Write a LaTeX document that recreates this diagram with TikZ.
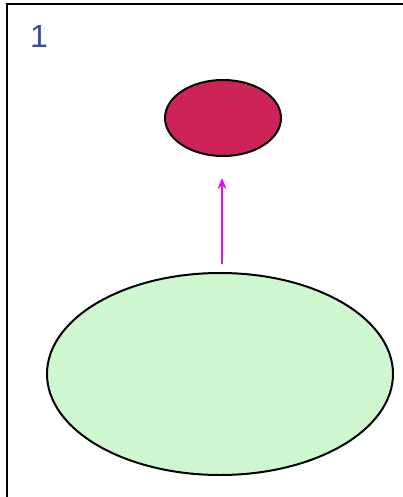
\documentclass[tikz,border=0pt]{standalone}
\usepackage{fontspec}
\setmainfont{Liberation Sans}
\usetikzlibrary{arrows.meta,shapes.geometric}
\definecolor{topred}{HTML}{CC2458}
\definecolor{lightgreen}{HTML}{CFF7CF}
\definecolor{arrowmag}{HTML}{E010E8}
\definecolor{numblue}{HTML}{3848A8}
\tikzset{
  blob/.style={draw=black, line width=2pt, ellipse, inner sep=0pt, outer sep=0pt},
  conn/.style={draw=arrowmag, line width=2.6pt, -{Stealth[length=11pt,width=9pt]}}
}
\begin{document}
\begin{tikzpicture}[x=1pt,y=-1pt]
\useasboundingbox (0,0) rectangle (403,497);
\fill[white] (0,0) rectangle (403,497);
\draw[line width=2.6pt] (7,497) -- (7,4) -- (403,4);
\node[text=numblue, font=\fontsize{32}{36}\selectfont, anchor=center, inner sep=0pt] (num) at (39,36) {1};
\node[blob, fill=topred, minimum width=116pt, minimum height=76pt] (small) at (223,118) {};
\node[blob, fill=lightgreen, minimum width=346pt, minimum height=202pt] (big) at (220,374) {};
\draw[conn, shorten <=9pt, shorten >=22pt] ([xshift=2pt]big.north) -- ([xshift=-1pt]small.south);
\end{tikzpicture}
\end{document}
